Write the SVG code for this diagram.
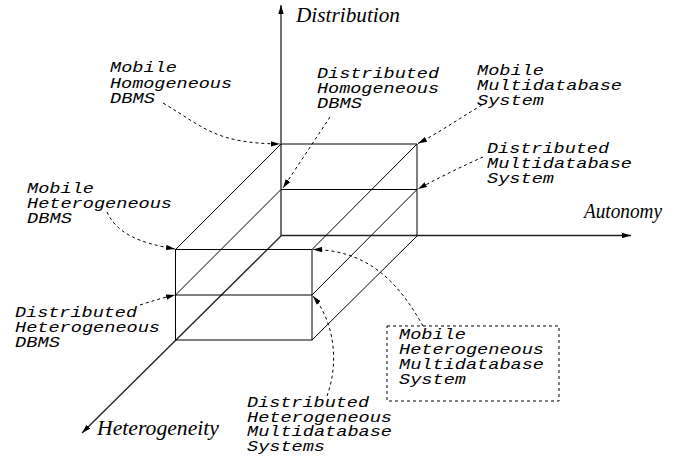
<svg xmlns="http://www.w3.org/2000/svg" width="691" height="461" viewBox="0 0 691 461">
<style>
.ln{stroke:#000;stroke-width:1;fill:none}
.ax{stroke:#222;stroke-width:1.3;fill:none}
.dl{stroke:#000;stroke-width:1;fill:none;stroke-dasharray:3 3}
.lb{font-family:"Liberation Mono","DejaVu Sans Mono",monospace;font-style:italic;font-size:14.5px;fill:#000}
.axl{font-family:"Liberation Serif","DejaVu Serif",serif;font-style:italic;font-size:20px;fill:#000}
</style>
<defs>
<marker id="ah" viewBox="0 0 10 6" refX="10" refY="3" markerWidth="9" markerHeight="5.5" markerUnits="userSpaceOnUse" orient="auto">
<path d="M0,0 L10,3 L0,6 Z" fill="#000"/>
</marker>
</defs>
<rect width="691" height="461" fill="#fff"/>
<g id="axes">
<line class="ax" x1="281" y1="236" x2="281" y2="5" marker-end="url(#ah)"/>
<line class="ax" x1="281" y1="235.5" x2="631" y2="235.5" marker-end="url(#ah)"/>
<line class="ax" x1="281" y1="236" x2="82" y2="433" marker-end="url(#ah)"/>
<text class="axl" x="296" y="22" textLength="104" lengthAdjust="spacingAndGlyphs">Distribution</text>
<text class="axl" x="584" y="218" textLength="78" lengthAdjust="spacingAndGlyphs">Autonomy</text>
<text class="axl" x="97" y="435" textLength="122" lengthAdjust="spacingAndGlyphs">Heterogeneity</text>
</g>
<g id="cube">
<polyline class="ln" points="281,144 417,144 417,236"/>
<line class="ln" x1="281" y1="189.5" x2="417" y2="189.5"/>
<rect class="ln" x="175.5" y="249.5" width="136.5" height="90.5"/>
<line class="ln" x1="175.5" y1="295" x2="312" y2="295"/>
<line class="ln" x1="175.5" y1="249.5" x2="281" y2="144"/>
<line class="ln" x1="175.5" y1="295" x2="281" y2="189.5"/>
<line class="ln" x1="312" y1="249.5" x2="417" y2="144"/>
<line class="ln" x1="312" y1="295" x2="417" y2="189.5"/>
<line class="ln" x1="312" y1="340" x2="417" y2="236"/>
</g>
<g id="connectors">
<path class="dl" d="M163,103 C205,128 215,143 280,144" marker-end="url(#ah)"/>
<path class="dl" d="M330,117 L283,188" marker-end="url(#ah)"/>
<path class="dl" d="M482,105 C460,118 440,132 418,143.5" marker-end="url(#ah)"/>
<path class="dl" d="M483,157 C465,165 440,177 418,189" marker-end="url(#ah)"/>
<path class="dl" d="M107,212 C117,234 140,243 175,249" marker-end="url(#ah)"/>
<path class="dl" d="M140,305 C152,301 162,298 175,295" marker-end="url(#ah)"/>
<path class="dl" d="M327,396 C340,360 333,320 313,296" marker-end="url(#ah)"/>
<path class="dl" d="M423,326 C400,285 370,250 313,249.5" marker-end="url(#ah)"/>
</g>
<g id="mobile-homogeneous-dbms">
<text class="lb" x="110" y="72" textLength="67" lengthAdjust="spacingAndGlyphs">Mobile</text>
<text class="lb" x="110" y="88" textLength="122" lengthAdjust="spacingAndGlyphs">Homogeneous</text>
<text class="lb" x="110" y="103" textLength="45" lengthAdjust="spacingAndGlyphs">DBMS</text>
</g>
<g id="distributed-homogeneous-dbms">
<text class="lb" x="317" y="78" textLength="122" lengthAdjust="spacingAndGlyphs">Distributed</text>
<text class="lb" x="317" y="93" textLength="122" lengthAdjust="spacingAndGlyphs">Homogeneous</text>
<text class="lb" x="317" y="108" textLength="45" lengthAdjust="spacingAndGlyphs">DBMS</text>
</g>
<g id="mobile-multidatabase-system">
<text class="lb" x="477" y="75" textLength="67" lengthAdjust="spacingAndGlyphs">Mobile</text>
<text class="lb" x="477" y="90" textLength="145" lengthAdjust="spacingAndGlyphs">Multidatabase</text>
<text class="lb" x="477" y="105" textLength="67" lengthAdjust="spacingAndGlyphs">System</text>
</g>
<g id="distributed-multidatabase-system">
<text class="lb" x="487" y="153" textLength="122" lengthAdjust="spacingAndGlyphs">Distributed</text>
<text class="lb" x="487" y="168" textLength="145" lengthAdjust="spacingAndGlyphs">Multidatabase</text>
<text class="lb" x="487" y="183" textLength="67" lengthAdjust="spacingAndGlyphs">System</text>
</g>
<g id="mobile-heterogeneous-dbms">
<text class="lb" x="27" y="193" textLength="67" lengthAdjust="spacingAndGlyphs">Mobile</text>
<text class="lb" x="27" y="208" textLength="145" lengthAdjust="spacingAndGlyphs">Heterogeneous</text>
<text class="lb" x="27" y="223" textLength="45" lengthAdjust="spacingAndGlyphs">DBMS</text>
</g>
<g id="distributed-heterogeneous-dbms">
<text class="lb" x="15" y="317" textLength="122" lengthAdjust="spacingAndGlyphs">Distributed</text>
<text class="lb" x="15" y="332" textLength="145" lengthAdjust="spacingAndGlyphs">Heterogeneous</text>
<text class="lb" x="15" y="347" textLength="45" lengthAdjust="spacingAndGlyphs">DBMS</text>
</g>
<g id="distributed-heterogeneous-multidatabase-systems">
<text class="lb" x="247" y="407" textLength="122" lengthAdjust="spacingAndGlyphs">Distributed</text>
<text class="lb" x="247" y="421.5" textLength="145" lengthAdjust="spacingAndGlyphs">Heterogeneous</text>
<text class="lb" x="247" y="436" textLength="145" lengthAdjust="spacingAndGlyphs">Multidatabase</text>
<text class="lb" x="247" y="451" textLength="78" lengthAdjust="spacingAndGlyphs">Systems</text>
</g>
<g id="mobile-heterogeneous-multidatabase-system">
<rect class="dl" x="387" y="326" width="172" height="75"/>
<text class="lb" x="399" y="338.5" textLength="67" lengthAdjust="spacingAndGlyphs">Mobile</text>
<text class="lb" x="399" y="353.5" textLength="145" lengthAdjust="spacingAndGlyphs">Heterogeneous</text>
<text class="lb" x="399" y="368.5" textLength="145" lengthAdjust="spacingAndGlyphs">Multidatabase</text>
<text class="lb" x="399" y="383.5" textLength="67" lengthAdjust="spacingAndGlyphs">System</text>
</g>
</svg>
